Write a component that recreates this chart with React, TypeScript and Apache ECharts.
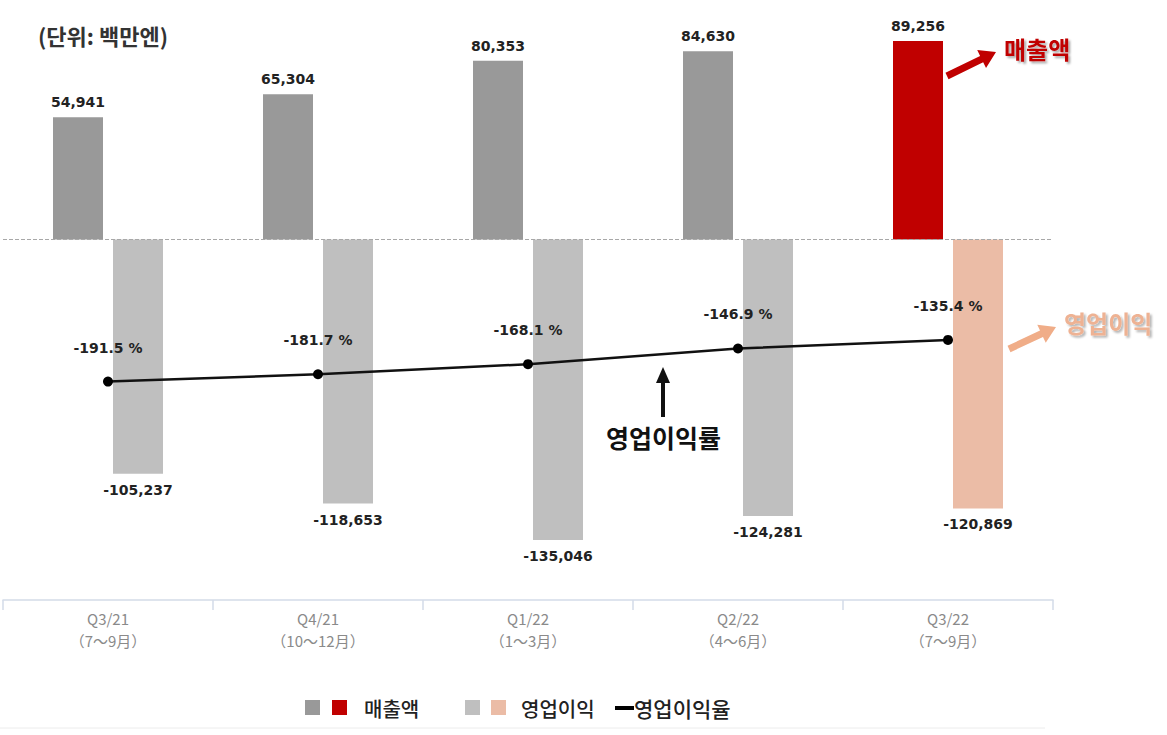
import React, { useEffect, useRef } from "react";
import * as echarts from "echarts";

const categories = [
  "Q3/21\n（7～9月）",
  "Q4/21\n（10～12月）",
  "Q1/22\n（1～3月）",
  "Q2/22\n（4～6月）",
  "Q3/22\n（7～9月）",
];
const revenue = [54941, 65304, 80353, 84630, 89256];
const operatingProfit = [-105237, -118653, -135046, -124281, -120869];
const operatingMargin = [-191.5, -181.7, -168.1, -146.9, -135.4];

const KR = "'Noto Sans CJK KR', 'Noto Sans', sans-serif";
const NUM = "'DejaVu Sans', Verdana, sans-serif";

function arrow(x1: number, y1: number, x2: number, y2: number, w: number, hl: number, hw: number) {
  const dx = x2 - x1;
  const dy = y2 - y1;
  const len = Math.sqrt(dx * dx + dy * dy);
  const ux = dx / len;
  const uy = dy / len;
  const nx = -uy;
  const ny = ux;
  const bx = x2 - ux * hl;
  const by = y2 - uy * hl;
  return [
    [x1 + nx * w / 2, y1 + ny * w / 2],
    [bx + nx * w / 2, by + ny * w / 2],
    [bx + nx * hw / 2, by + ny * hw / 2],
    [x2, y2],
    [bx - nx * hw / 2, by - ny * hw / 2],
    [bx - nx * w / 2, by - ny * w / 2],
    [x1 - nx * w / 2, y1 - ny * w / 2],
  ];
}

export default function App() {
  const ref = useRef<HTMLDivElement>(null);
  useEffect(() => {
    document.body.style.margin = "0";
    const chart = echarts.init(ref.current!, null, { renderer: "svg" });
    const lastRed = "#c00000";
    const lastPeach = "#ebbca6";
    chart.setOption({
      animation: false,
      grid: { left: 3, right: 114, top: 17, bottom: 135, containLabel: false },
      xAxis: {
        type: "category",
        data: categories,
        axisLine: { onZero: false, lineStyle: { color: "#d3dbe8", width: 1.5 } },
        axisTick: { show: true, length: 10, lineStyle: { color: "#d3dbe8", width: 1.5 } },
        axisLabel: {
          color: "#8a8a8a",
          fontSize: 15,
          lineHeight: 22,
          margin: 7,
          fontFamily: KR,
        },
      },
      yAxis: [
        { type: "value", min: -162000, max: 100000, show: false, splitLine: { show: false } },
        { type: "value", min: -486, max: 300, show: false, splitLine: { show: false } },
      ],
      series: [
        {
          name: "매출액",
          type: "bar",
          barWidth: 50,
          barGap: "20%",
          yAxisIndex: 0,
          data: revenue.map((v, i) => ({
            value: v,
            itemStyle: { color: i === revenue.length - 1 ? lastRed : "#999999" },
          })),
          label: {
            show: true,
            position: "top",
            distance: 8,
            color: "#222",
            fontFamily: NUM,
            fontWeight: "bold",
            fontSize: 14,
            formatter: (p: any) => p.value.toLocaleString("en-US"),
          },
          markLine: {
            silent: true,
            symbol: ["none", "none"],
            label: { show: false },
            lineStyle: { type: "dashed", color: "#a8a8a8", width: 1 },
            data: [{ yAxis: 0 }],
          },
        },
        {
          name: "영업이익",
          type: "bar",
          barWidth: 50,
          yAxisIndex: 0,
          data: operatingProfit.map((v, i) => ({
            value: v,
            itemStyle: { color: i === operatingProfit.length - 1 ? lastPeach : "#bfbfbf" },
          })),
          label: {
            show: true,
            position: "bottom",
            distance: 9,
            color: "#222",
            fontFamily: NUM,
            fontWeight: "bold",
            fontSize: 14,
            formatter: (p: any) => p.value.toLocaleString("en-US"),
          },
        },
        {
          name: "영업이익율",
          type: "line",
          yAxisIndex: 1,
          data: operatingMargin,
          symbol: "circle",
          symbolSize: 10,
          itemStyle: { color: "#000" },
          lineStyle: { color: "#111", width: 2.5 },
          z: 5,
          label: {
            show: true,
            position: "top",
            distance: 22,
            color: "#222",
            fontFamily: NUM,
            fontWeight: "bold",
            fontSize: 14,
            formatter: (p: any) => `${p.value} %`,
          },
        },
      ],
      graphic: [
        {
          type: "text",
          left: 38,
          top: 24,
          style: { text: "(단위: 백만엔)", font: `bold 22px ${KR}`, fill: "#333" },
        },
        // annotations
        {
          type: "polygon",
          shape: { points: arrow(947, 76, 996, 52, 7, 16, 20) },
          style: { fill: "#c00000" },
        },
        {
          type: "text",
          x: 1004,
          y: 48,
          style: {
            text: "매출액",
            font: `bold 24px ${KR}`,
            fill: "#c00000",
            verticalAlign: "middle",
            textShadowColor: "rgba(0,0,0,0.35)",
            textShadowOffsetX: 2,
            textShadowOffsetY: 2,
            textShadowBlur: 2,
          },
        },
        {
          type: "polygon",
          shape: { points: arrow(1009, 349, 1056, 327, 7, 16, 20) },
          style: { fill: "#f0ad88" },
        },
        {
          type: "text",
          x: 1064,
          y: 322,
          style: {
            text: "영업이익",
            font: `bold 24px ${KR}`,
            fill: "#eeb293",
            verticalAlign: "middle",
            textShadowColor: "rgba(0,0,0,0.3)",
            textShadowOffsetX: 2,
            textShadowOffsetY: 2,
            textShadowBlur: 2,
          },
        },
        {
          type: "polygon",
          shape: { points: arrow(663, 417, 663, 367, 4, 16, 14) },
          style: { fill: "#111" },
        },
        {
          type: "text",
          x: 606,
          y: 437,
          style: {
            text: "영업이익률",
            font: `bold 25px ${KR}`,
            fill: "#111",
            verticalAlign: "middle",
          },
        },
        // legend
        { type: "rect", shape: { x: 305, y: 700, width: 15, height: 15 }, style: { fill: "#999999" } },
        { type: "rect", shape: { x: 332, y: 700, width: 15, height: 15 }, style: { fill: "#c00000" } },
        {
          type: "text",
          x: 364,
          y: 708,
          style: { text: "매출액", font: `500 20px ${KR}`, fill: "#222", verticalAlign: "middle" },
        },
        { type: "rect", shape: { x: 465, y: 700, width: 15, height: 15 }, style: { fill: "#bfbfbf" } },
        { type: "rect", shape: { x: 491, y: 700, width: 15, height: 15 }, style: { fill: "#ebbca6" } },
        {
          type: "text",
          x: 521,
          y: 708,
          style: { text: "영업이익", font: `500 20px ${KR}`, fill: "#222", verticalAlign: "middle" },
        },
        { type: "rect", shape: { x: 615, y: 706, width: 19, height: 4 }, style: { fill: "#000" } },
        {
          type: "text",
          x: 634,
          y: 708,
          style: { text: "영업이익율", font: `500 21px ${KR}`, fill: "#222", verticalAlign: "middle" },
        },
        {
          type: "line",
          shape: { x1: 0, y1: 728, x2: 1045, y2: 728 },
          style: { stroke: "#ececec", lineWidth: 1 },
        },
      ],
    });
    return () => chart.dispose();
  }, []);
  return <div ref={ref} style={{ width: 1167, height: 735 }} />;
}
